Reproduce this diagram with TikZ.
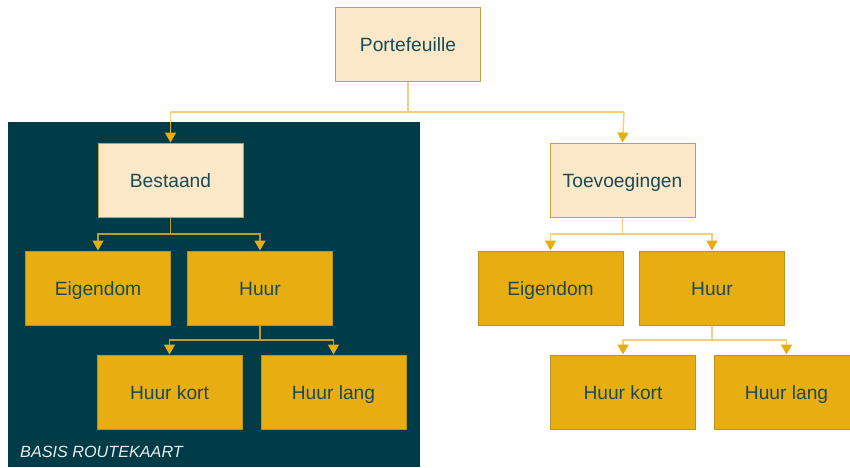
\documentclass[tikz,border=0pt]{standalone}
\usepackage{fontspec}
\setmainfont{Liberation Sans}
\usetikzlibrary{arrows.meta}
\definecolor{darkbg}{HTML}{003C48}
\definecolor{lightfill}{HTML}{FAE8C8}
\definecolor{lightborder}{HTML}{C8A040}
\definecolor{goldfill}{HTML}{E8AD10}
\definecolor{goldborder}{HTML}{BC921C}
\definecolor{txt}{HTML}{1B4A55}
\definecolor{paleline}{HTML}{F5CF7A}
\definecolor{darkline}{HTML}{C29A2C}
\tikzset{
  boxbase/.style={line width=1pt, minimum width=145pt, minimum height=74pt, inner sep=0pt, text=txt, font=\fontsize{19.2}{22}\selectfont, text height=16pt, text depth=1.5pt},
  lightbox/.style={boxbase, draw=lightborder, fill=lightfill},
  goldbox/.style={boxbase, draw=goldborder, fill=goldfill},
  conn/.style={line width=1.4pt, -{Triangle[length=10pt,width=11pt,fill=goldfill,color=goldfill]}},
  paleconn/.style={conn, draw=paleline},
  darkconn/.style={conn, draw=darkline},
}
\begin{document}
\begin{tikzpicture}[x=1pt,y=-1pt]
\clip (0,0) rectangle (850,467);
\fill[white] (0,0) rectangle (850,467);
\fill[darkbg] (8,122) rectangle (420,467);
\node[anchor=west, inner sep=0pt, text=white!92!black, font=\fontsize{16.2}{18}\selectfont\itshape] (basis) at (20,452) {BASIS ROUTEKAART};

\node[lightbox] (port) at (408,44) {Portefeuille};
\node[lightbox] (best) at (170.5,180) {Bestaand};
\node[lightbox] (toev) at (622.5,180) {Toevoegingen};

\node[goldbox] (eig1) at (98,288) {Eigendom};
\node[goldbox] (huur1) at (260,288) {Huur};
\node[goldbox] (hk1) at (169.5,392) {Huur kort};
\node[goldbox] (hl1) at (333.5,392) {Huur lang};

\node[goldbox] (eig2) at (550.5,288) {Eigendom};
\node[goldbox] (huur2) at (712,288) {Huur};
\node[goldbox] (hk2) at (623,392) {Huur kort};
\node[goldbox] (hl2) at (786.5,392) {Huur lang};

\coordinate (c0) at (408,112);
\coordinate (cb) at (170.5,122);
\draw[paleline, line width=1.4pt] (port.south) -- (c0);
\draw[paleline, line width=1.4pt] (170.5,112) -- (624,112);
\draw[paleline, line width=1.4pt] (170.5,112) -- (cb);
\draw[conn, draw=goldfill] (cb) -- (best.north);
\draw[paleconn] (624,112) -- (toev.north);

\draw[darkconn] (best.south) |- (98,234) -- (eig1.north);
\draw[darkconn] (best.south) |- (260,234) -- (huur1.north);
\draw[darkconn] (huur1.south) |- (169.5,340) -- (hk1.north);
\draw[darkconn] (huur1.south) |- (333.5,340) -- (hl1.north);

\draw[paleconn] (toev.south) |- (550.5,234) -- (eig2.north);
\draw[paleconn] (toev.south) |- (712,234) -- (huur2.north);
\draw[paleconn] (huur2.south) |- (623,340) -- (hk2.north);
\draw[paleconn] (huur2.south) |- (786.5,340) -- (hl2.north);
\end{tikzpicture}
\end{document}
